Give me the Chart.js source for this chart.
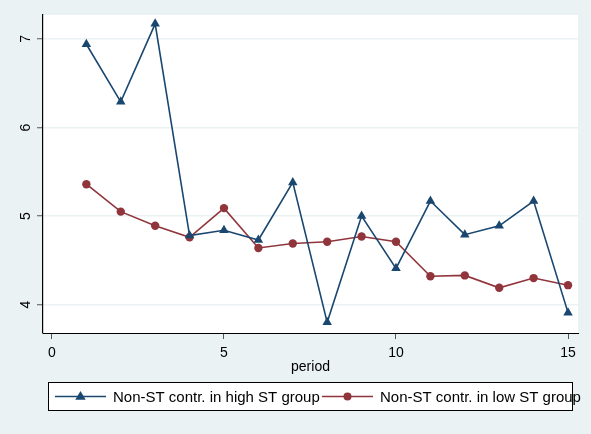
<!DOCTYPE html>
<html>
<head>
<meta charset="utf-8">
<script src="https://cdn.jsdelivr.net/npm/chart.js@4/dist/chart.umd.min.js"></script>
<style>
  html, body { margin: 0; padding: 0; background: #EAF2F3; }
  #wrap { width: 591px; height: 434px; position: relative; }
</style>
</head>
<body>
<div id="wrap"><canvas id="c" width="591" height="434"></canvas></div>
<script>
// Periods on the x axis
const periods = [1, 2, 3, 4, 5, 6, 7, 8, 9, 10, 11, 12, 13, 14, 15];
// Mean non-ST contributions by period
const highST = [6.94, 6.29, 7.17, 4.78, 4.84, 4.73, 5.38, 3.80, 5.00, 4.41, 5.17, 4.79, 4.89, 5.17, 3.91];
const lowST  = [5.36, 5.05, 4.89, 4.76, 5.09, 4.64, 4.69, 4.71, 4.77, 4.71, 4.32, 4.33, 4.19, 4.30, 4.22];
const seriesLabels = ['Non-ST contr. in high ST group', 'Non-ST contr. in low ST group'];
const xTicks = [0, 5, 10, 15];
const yTicks = [4, 5, 6, 7];

const NAVY = '#1A476F';
const MAROON = '#90353B';
const FONT = '"Liberation Sans", Arial, Helvetica, sans-serif';

// Panel backgrounds: light outer region and white plot region
const backdrop = {
  id: 'backdrop',
  beforeDraw(chart) {
    const { ctx, chartArea: a } = chart;
    ctx.save();
    ctx.fillStyle = '#EAF2F3';
    ctx.fillRect(0, 0, chart.width, chart.height);
    ctx.fillStyle = '#FFFFFF';
    ctx.fillRect(a.left, a.top, a.right - a.left, a.bottom - a.top);
    ctx.restore();
  }
};

// Y tick labels written vertically, reading bottom to top, centred on each tick
const verticalYLabels = {
  id: 'verticalYLabels',
  afterDraw(chart) {
    const ctx = chart.ctx;
    const ys = chart.scales.y;
    ctx.save();
    ctx.fillStyle = '#000000';
    ctx.font = '14px ' + FONT;
    ctx.textAlign = 'center';
    ctx.textBaseline = 'middle';
    ys.ticks.forEach(t => {
      const py = ys.getPixelForValue(t.value);
      ctx.save();
      ctx.translate(26, py);
      ctx.rotate(-Math.PI / 2);
      ctx.fillText(String(t.value), 0, 0);
      ctx.restore();
    });
    ctx.restore();
  }
};

// Boxed legend below the axis, each key a line with its marker in the middle
const boxLegend = {
  id: 'boxLegend',
  afterDraw(chart) {
    const ctx = chart.ctx;
    const box = { x: 48.5, y: 382.5, w: 524, h: 28 };
    ctx.save();
    ctx.fillStyle = '#FFFFFF';
    ctx.fillRect(box.x, box.y, box.w, box.h);
    const cy = box.y + box.h / 2;
    const keys = [
      { x0: 55, x1: 106, tx: 113 },
      { x0: 322, x1: 373, tx: 380 }
    ];
    chart.data.datasets.forEach((ds, i) => {
      const k = keys[i];
      ctx.strokeStyle = ds.borderColor;
      ctx.lineWidth = 1.5;
      ctx.beginPath();
      ctx.moveTo(k.x0, cy);
      ctx.lineTo(k.x1, cy);
      ctx.stroke();
      const mx = (k.x0 + k.x1) / 2;
      ctx.fillStyle = ds.pointBackgroundColor;
      ctx.beginPath();
      if (ds.pointStyle === 'triangle') {
        const r = 5.5;
        ctx.moveTo(mx, cy - r);
        ctx.lineTo(mx + r * 0.95, cy + r * 0.6);
        ctx.lineTo(mx - r * 0.95, cy + r * 0.6);
        ctx.closePath();
      } else {
        ctx.arc(mx, cy, 4, 0, Math.PI * 2);
      }
      ctx.fill();
      ctx.fillStyle = '#000000';
      ctx.font = '15px ' + FONT;
      ctx.textBaseline = 'middle';
      ctx.textAlign = 'left';
      ctx.fillText(ds.label, k.tx, cy + 1);
    });
    ctx.strokeStyle = '#000000';
    ctx.lineWidth = 1;
    ctx.strokeRect(box.x, box.y, box.w, box.h);
    ctx.restore();
  }
};

new Chart(document.getElementById('c'), {
  type: 'line',
  data: {
    labels: periods,
    datasets: [
      {
        label: seriesLabels[0],
        data: periods.map((p, i) => ({ x: p, y: highST[i] })),
        borderColor: NAVY,
        backgroundColor: NAVY,
        pointBackgroundColor: NAVY,
        pointBorderColor: NAVY,
        pointStyle: 'triangle',
        pointRadius: 5.5,
        pointBorderWidth: 0,
        borderWidth: 1.6,
        tension: 0
      },
      {
        label: seriesLabels[1],
        data: periods.map((p, i) => ({ x: p, y: lowST[i] })),
        borderColor: MAROON,
        backgroundColor: MAROON,
        pointBackgroundColor: MAROON,
        pointBorderColor: MAROON,
        pointStyle: 'circle',
        pointRadius: 4.2,
        pointBorderWidth: 0,
        borderWidth: 1.6,
        tension: 0
      }
    ]
  },
  options: {
    responsive: false,
    animation: false,
    devicePixelRatio: 1,
    layout: { padding: { left: 0, right: 13, top: 15, bottom: 58 } },
    plugins: {
      legend: { display: false },
      tooltip: { enabled: false }
    },
    scales: {
      x: {
        type: 'linear',
        min: -0.26,
        max: 15.29,
        afterBuildTicks(scale) { scale.ticks = xTicks.map(v => ({ value: v })); },
        afterFit(scale) { scale.height = 43; },
        grid: {
          display: true,
          drawOnChartArea: false,
          drawTicks: true,
          tickLength: 6,
          tickColor: '#555555',
          tickWidth: 1
        },
        border: { display: true, color: '#000000', width: 1 },
        ticks: {
          color: '#000000',
          font: { family: FONT, size: 14 },
          padding: 6,
          maxRotation: 0,
          minRotation: 0
        },
        title: {
          display: true,
          text: 'period',
          color: '#000000',
          font: { family: FONT, size: 14 },
          padding: { top: 0, bottom: 0 }
        }
      },
      y: {
        type: 'linear',
        min: 3.68,
        max: 7.27,
        afterBuildTicks(scale) { scale.ticks = yTicks.map(v => ({ value: v })); },
        afterFit(scale) { scale.width = 43; },
        grid: {
          display: true,
          drawOnChartArea: true,
          color: '#EAF2F3',
          lineWidth: 1.5,
          drawTicks: true,
          tickLength: 6,
          tickColor: '#555555',
          tickWidth: 1
        },
        border: { display: true, color: '#000000', width: 1.2 },
        ticks: { display: false }
      }
    }
  },
  plugins: [backdrop, verticalYLabels, boxLegend]
});
</script>
</body>
</html>
